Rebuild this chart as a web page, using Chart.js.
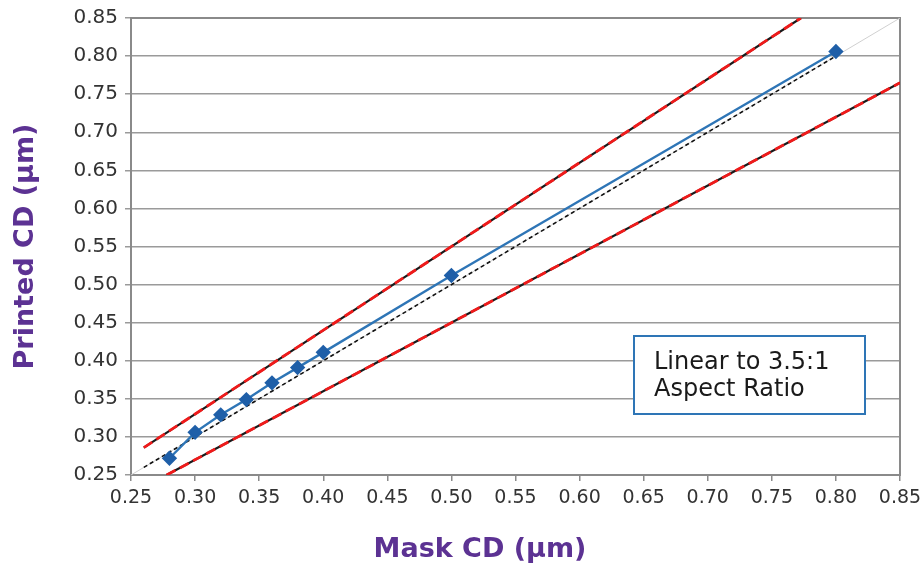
<!DOCTYPE html>
<html>
<head>
<meta charset="utf-8">
<script src="https://cdn.jsdelivr.net/npm/chart.js@4.4.1/dist/chart.umd.min.js"></script>
<style>
  html, body { margin: 0; padding: 0; background: #fff; }
  #wrap { width: 921px; height: 570px; position: relative; }
</style>
</head>
<body>
<div id="wrap"><canvas id="cdChart"></canvas></div>
<script>
/* ---------- data ---------- */
const maskCD    = [0.28, 0.30, 0.32, 0.34, 0.36, 0.38, 0.40, 0.50, 0.80];
const printedCD = [0.272, 0.306, 0.329, 0.349, 0.371, 0.391, 0.411, 0.512, 0.806];

// reference lines (endpoints only)
const idealX    = [0.26, 0.80];   // 1:1 dashed black
const idealY    = [0.26, 0.80];
const diagX     = [0.25, 0.85];   // thin grey diagonal
const diagY     = [0.25, 0.85];
const upperX    = [0.26, 0.7727]; // +10 %
const upperY    = [0.286, 0.85];
const lowerX    = [0.2778, 0.85]; // -10 %
const lowerY    = [0.25, 0.765];

const tickValues = [0.25, 0.30, 0.35, 0.40, 0.45, 0.50, 0.55, 0.60, 0.65, 0.70, 0.75, 0.80, 0.85];
const boxLines   = ['Linear to 3.5:1', 'Aspect Ratio'];

const pts = (xs, ys) => xs.map((x, i) => ({ x: x, y: ys[i] }));

const PURPLE = '#5c3293';
const FONT = "'DejaVu Sans', Verdana, sans-serif";

/* ---------- plugins ---------- */
const boxPlugin = {
  id: 'noteBox',
  afterDatasetsDraw(chart) {
    const c = chart.ctx;
    c.save();
    c.fillStyle = '#fff';
    c.fillRect(634, 336, 231, 78);
    c.strokeStyle = '#2e75b6';
    c.lineWidth = 2;
    c.strokeRect(634, 336, 231, 78);
    c.fillStyle = '#1a1a1a';
    c.font = '24px ' + FONT;
    c.textBaseline = 'middle';
    c.fillText(boxLines[0], 654, 363);
    c.fillText(boxLines[1], 654, 390);
    c.restore();
  }
};

const xTitlePlugin = {
  id: 'xTitle',
  afterDraw(chart) {
    const c = chart.ctx;
    c.save();
    c.fillStyle = PURPLE;
    c.font = 'bold 27px ' + FONT;
    c.textAlign = 'center';
    c.textBaseline = 'middle';
    c.fillText('Mask CD (µm)', 480, 550);
    c.restore();
  }
};

/* ---------- chart ---------- */
Chart.defaults.font.family = FONT;
Chart.defaults.color = '#333';

const refLine = (label, xs, ys, color, width, dash, order) => ({
  label: label,
  data: pts(xs, ys),
  showLine: true,
  borderColor: color,
  borderWidth: width,
  borderDash: dash,
  pointRadius: 0,
  order: order
});

new Chart(document.getElementById('cdChart').getContext('2d'), {
  type: 'scatter',
  data: {
    datasets: [{
      label: 'data',
      data: pts(maskCD, printedCD),
      showLine: true,
      borderColor: '#2e75b6',
      borderWidth: 2.4,
      pointStyle: 'rectRot',
      pointRadius: 6,
      pointBackgroundColor: '#1f5fa8',
      pointBorderColor: '#1f5fa8',
      order: 1
    },
    refLine('ideal', idealX, idealY, '#111', 1.6, [4, 3], 2),
    refLine('diag', diagX, diagY, '#d0d0d0', 1, [], 5),
    refLine('upper base', upperX, upperY, '#1a1a1a', 2.2, [], 4),
    refLine('upper', upperX, upperY, '#f01a1a', 2.8, [10, 5], 3),
    refLine('lower base', lowerX, lowerY, '#1a1a1a', 2.2, [], 4),
    refLine('lower', lowerX, lowerY, '#f01a1a', 2.8, [10, 5], 3)
    ]
  },
  options: {
    responsive: true,
    maintainAspectRatio: false,
    animation: false,
    layout: { padding: { top: 18, right: 21, left: 0, bottom: 0 } },
    plugins: {
      legend: { display: false },
      tooltip: { enabled: false }
    },
    scales: {
      x: {
        type: 'linear',
        min: 0.25,
        max: 0.85,
        afterBuildTicks: s => { s.ticks = tickValues.map(v => ({ value: v })); },
        afterFit: s => { s.height = 95; s.paddingLeft = 0; s.paddingRight = 0; },
        border: { display: true, color: '#8a8a8a', width: 2 },
        grid: {
          drawOnChartArea: false,
          drawTicks: true,
          tickLength: 6,
          color: '#8a8a8a',
          lineWidth: 1.5
        },
        ticks: {
          padding: 6,
          maxRotation: 0,
          font: { size: 19 },
          color: '#333',
          callback: v => v.toFixed(2)
        }
      },
      y: {
        type: 'linear',
        min: 0.25,
        max: 0.85,
        afterBuildTicks: s => { s.ticks = tickValues.map(v => ({ value: v })); },
        afterFit: s => { s.width = 131; s.paddingTop = 0; s.paddingBottom = 0; },
        border: { display: true, color: '#8a8a8a', width: 2 },
        grid: {
          color: '#9a9a9a',
          lineWidth: 1.5,
          drawTicks: true,
          tickLength: 6
        },
        ticks: {
          padding: 7,
          font: { size: 20 },
          color: '#333',
          callback: v => v.toFixed(2)
        },
        title: {
          display: true,
          text: 'Printed CD (µm)',
          color: PURPLE,
          font: { size: 27, weight: 'bold' },
          padding: { top: 10, bottom: 10 }
        }
      },
      x2: {
        type: 'linear',
        position: 'top',
        min: 0.25,
        max: 0.85,
        display: true,
        border: { display: true, color: '#8a8a8a', width: 2 },
        grid: { display: false },
        ticks: { display: false },
        afterFit: s => { s.height = 0; }
      },
      y2: {
        type: 'linear',
        position: 'right',
        min: 0.25,
        max: 0.85,
        display: true,
        border: { display: true, color: '#8a8a8a', width: 2 },
        grid: { display: false },
        ticks: { display: false },
        afterFit: s => { s.width = 0; }
      }
    }
  },
  plugins: [boxPlugin, xTitlePlugin]
});
</script>
</body>
</html>
